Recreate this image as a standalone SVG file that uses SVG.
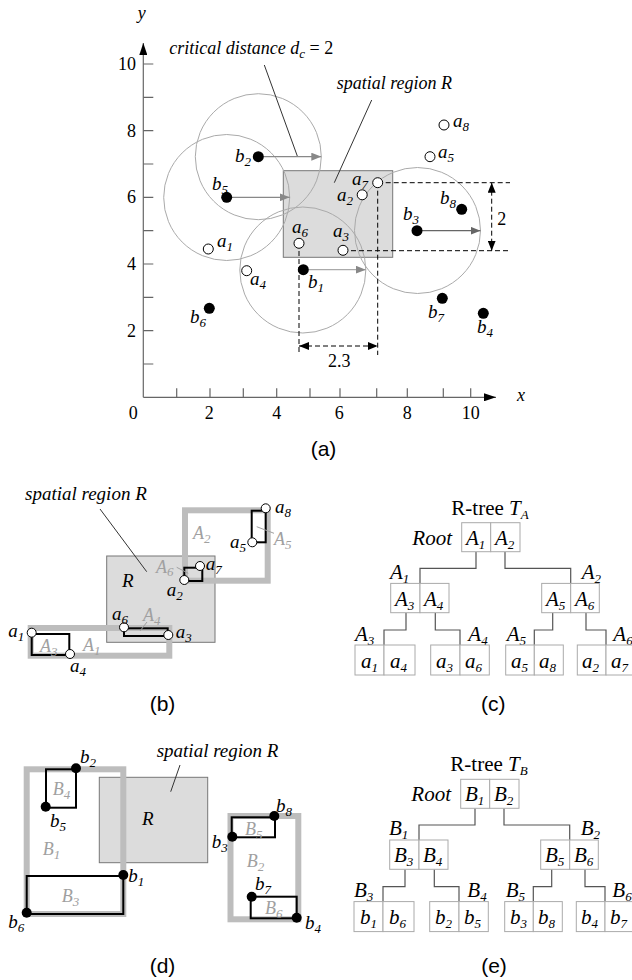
<svg xmlns="http://www.w3.org/2000/svg" width="632" height="980" viewBox="0 0 632 980">
<style>
text{font-family:"Liberation Serif","Times New Roman",serif;font-size:18px;fill:#000}
.it{font-style:italic}
.lbl{font-style:italic;font-size:19px}
.gl{font-style:italic;font-size:18px;fill:#a0a0a0}
.sub{font-size:13px}
.cap{font-family:"Liberation Sans",Arial,sans-serif;font-size:21px}
.tr{font-size:21px}
.ax{stroke:#666;stroke-width:1.2;fill:none}
.dash{stroke:#000;stroke-width:1;stroke-dasharray:5,3;fill:none}
.circ{fill:none;stroke:#aaa;stroke-width:1}
.open{fill:#fff;stroke:#000;stroke-width:1}
.dot{fill:#000}
.reg{fill:#dcdcdc;stroke:#777;stroke-width:1}
.thick{fill:none;stroke:#bdbdbd;stroke-width:6}
.mbr{fill:none;stroke:#000;stroke-width:2}
.lead{stroke:#333;stroke-width:1;fill:none}
.glead{stroke:#a0a0a0;stroke-width:1;fill:none}
.cell{fill:#fff;stroke:#aaa;stroke-width:1}
.conn{stroke:#555;stroke-width:1.2;fill:none}
</style>
<defs>
<marker id="ga" viewBox="0 0 10 8" refX="10" refY="4" markerWidth="10" markerHeight="8" markerUnits="userSpaceOnUse" orient="auto"><path d="M0,0L10,4L0,8z" fill="#888"/></marker>
<marker id="ga2" viewBox="0 0 10 8" refX="10" refY="4" markerWidth="10" markerHeight="8" markerUnits="userSpaceOnUse" orient="auto"><path d="M0,0L10,4L0,8z" fill="#666"/></marker>
<marker id="ba" viewBox="0 0 10 8" refX="10" refY="4" markerWidth="10" markerHeight="8" markerUnits="userSpaceOnUse" orient="auto-start-reverse"><path d="M0,0L10,4L0,8z" fill="#000"/></marker>
<marker id="axa" viewBox="0 0 12 8" refX="12" refY="4" markerWidth="12" markerHeight="8" markerUnits="userSpaceOnUse" orient="auto"><path d="M0,0L12,4L0,8z" fill="#000"/></marker>
</defs>

<!-- (a) -->
<g id="plot-a">
<g id="axes">
<line class="ax" x1="143.3" y1="397.3" x2="496" y2="397.3" marker-end="url(#axa)"/>
<line class="ax" x1="143.3" y1="397.3" x2="143.3" y2="43" marker-end="url(#axa)"/>
<path class="ax" d="M176.7,397.3v-9M210,397.3v-9M243.3,397.3v-9M276.7,397.3v-9M310,397.3v-9M340,397.3v-9M376.7,397.3v-9M407.3,397.3v-9M443.3,397.3v-9M470.7,397.3v-9"/>
<path class="ax" d="M143.3,364h10M143.3,330.7h10M143.3,297.3h10M143.3,264h10M143.3,230.7h10M143.3,197.3h10M143.3,164h10M143.3,130.7h10M143.3,97.3h10M143.3,64h10"/>
<text x="133.3" y="419" text-anchor="middle">0</text>
<text x="209.3" y="419" text-anchor="middle">2</text>
<text x="276.7" y="419" text-anchor="middle">4</text>
<text x="339.3" y="419" text-anchor="middle">6</text>
<text x="407.3" y="419" text-anchor="middle">8</text>
<text x="470.7" y="419" text-anchor="middle">10</text>
<text x="136" y="337" text-anchor="end">2</text>
<text x="136" y="270" text-anchor="end">4</text>
<text x="136" y="203" text-anchor="end">6</text>
<text x="136" y="137" text-anchor="end">8</text>
<text x="136" y="70" text-anchor="end">10</text>
<text class="it" x="521" y="401" text-anchor="middle">x</text>
<text class="it" x="141.7" y="19" text-anchor="middle">y</text>
</g>
<rect id="region-a" class="reg" x="283.3" y="170.7" width="109.4" height="86.6"/>
<g id="circles">
<circle class="circ" cx="258.3" cy="156.7" r="63"/>
<circle class="circ" cx="226.7" cy="197.5" r="63"/>
<circle class="circ" cx="302.8" cy="270" r="63"/>
<circle class="circ" cx="417.5" cy="230.5" r="63" stroke="#777"/>
</g>
<g id="dims">
<path class="dash" d="M377.7,182.7H510M343,250.7H510M377.7,182.7V355M299,243V355"/>
<line class="dash" x1="491.7" y1="182.7" x2="491.7" y2="250.7" marker-start="url(#ba)" marker-end="url(#ba)"/>
<line class="dash" x1="299" y1="346" x2="377.7" y2="346" marker-start="url(#ba)" marker-end="url(#ba)"/>
<text x="501.7" y="224.5" text-anchor="middle">2</text>
<text x="339.3" y="367" text-anchor="middle">2.3</text>
</g>
<g id="range-arrows">
<line x1="258.3" y1="156.7" x2="321.3" y2="156.7" stroke="#888" stroke-width="1.2" marker-end="url(#ga)"/>
<line x1="226.7" y1="197.3" x2="289.7" y2="197.3" stroke="#888" stroke-width="1.2" marker-end="url(#ga)"/>
<line x1="303.3" y1="269.7" x2="365.8" y2="269.7" stroke="#aaa" stroke-width="1.2" marker-end="url(#ga)"/>
<line x1="417" y1="230.7" x2="480.5" y2="230.7" stroke="#666" stroke-width="1.2" marker-end="url(#ga2)"/>
</g>
<g id="annot-a">
<text class="it" x="169.3" y="53.5">critical distance <tspan>d</tspan><tspan class="sub" dy="4">c</tspan><tspan dy="-4" font-style="normal"> = 2</tspan></text>
<line class="lead" x1="264.3" y1="65" x2="297.3" y2="156"/>
<text class="it" x="336.7" y="89">spatial region R</text>
<line class="lead" x1="371.7" y1="100" x2="334.3" y2="182.7"/>
</g>
<g id="points-a">
<circle class="dot" cx="258.3" cy="156.7" r="5.5"/>
<circle class="dot" cx="226.7" cy="197.3" r="5.5"/>
<circle class="dot" cx="303.3" cy="269.7" r="5.5"/>
<circle class="dot" cx="209.3" cy="308.3" r="5.5"/>
<circle class="dot" cx="417" cy="230.7" r="5.5"/>
<circle class="dot" cx="461.7" cy="209.3" r="5.5"/>
<circle class="dot" cx="442.3" cy="298.3" r="5.5"/>
<circle class="dot" cx="483.3" cy="313.3" r="5.5"/>
<circle class="open" cx="377.7" cy="182.7" r="5"/>
<circle class="open" cx="362.2" cy="194.8" r="5"/>
<circle class="open" cx="299" cy="243.3" r="5"/>
<circle class="open" cx="343" cy="250.3" r="5"/>
<circle class="open" cx="208.3" cy="249" r="5"/>
<circle class="open" cx="246.7" cy="270.7" r="5"/>
<circle class="open" cx="444" cy="125" r="5"/>
<circle class="open" cx="430" cy="156.7" r="5"/>
</g>
<g id="labels-a">
<text class="lbl" x="235" y="162">b<tspan class="sub" dy="4">2</tspan></text>
<text class="lbl" x="212" y="190">b<tspan class="sub" dy="4">5</tspan></text>
<text class="lbl" x="352" y="185">a<tspan class="sub" dy="4">7</tspan></text>
<text class="lbl" x="337" y="201">a<tspan class="sub" dy="4">2</tspan></text>
<text class="lbl" x="292" y="233">a<tspan class="sub" dy="4">6</tspan></text>
<text class="lbl" x="333" y="237">a<tspan class="sub" dy="4">3</tspan></text>
<text class="lbl" x="217" y="247">a<tspan class="sub" dy="4">1</tspan></text>
<text class="lbl" x="250" y="285">a<tspan class="sub" dy="4">4</tspan></text>
<text class="lbl" x="308" y="288">b<tspan class="sub" dy="4">1</tspan></text>
<text class="lbl" x="190" y="323">b<tspan class="sub" dy="4">6</tspan></text>
<text class="lbl" x="403" y="220">b<tspan class="sub" dy="4">3</tspan></text>
<text class="lbl" x="440" y="204">b<tspan class="sub" dy="4">8</tspan></text>
<text class="lbl" x="428" y="318">b<tspan class="sub" dy="4">7</tspan></text>
<text class="lbl" x="477" y="333">b<tspan class="sub" dy="4">4</tspan></text>
<text class="lbl" x="453" y="127">a<tspan class="sub" dy="4">8</tspan></text>
<text class="lbl" x="438" y="158">a<tspan class="sub" dy="4">5</tspan></text>
</g>
<text class="cap" x="323.5" y="455.5" text-anchor="middle">(a)</text>
</g>

<!-- (b) -->
<g id="plot-b">
<rect id="region-b" class="reg" x="106.7" y="556" width="108.3" height="86.3"/>
<text class="lbl" x="122" y="587">R</text>
<text class="lbl" x="25" y="500">spatial region R</text>
<line class="lead" x1="100" y1="509" x2="146.7" y2="571.7"/>
<g id="A2"><rect class="thick" x="185" y="510.3" width="82.7" height="70.4"/><text class="gl" x="193" y="539">A<tspan class="sub" dy="4">2</tspan></text></g>
<g id="A1"><rect class="thick" x="30.7" y="628" width="138.6" height="27.7"/><text class="gl" x="83" y="651">A<tspan class="sub" dy="4">1</tspan></text></g>
<g id="A3"><rect class="mbr" x="31.7" y="634" width="37.6" height="21"/><text class="gl" x="40" y="652">A<tspan class="sub" dy="4">3</tspan></text></g>
<g id="A4"><rect class="mbr" x="124" y="628.3" width="43.7" height="7.7"/><text class="gl" x="143" y="621">A<tspan class="sub" dy="4">4</tspan></text><line class="glead" x1="140" y1="631" x2="147" y2="622"/></g>
<g id="A5"><rect class="mbr" x="251.7" y="510.7" width="14" height="31.6"/><text class="gl" x="274" y="545">A<tspan class="sub" dy="4">5</tspan></text><line class="glead" x1="256.7" y1="526.7" x2="274" y2="533.3"/></g>
<g id="A6"><rect class="mbr" x="184.3" y="567.7" width="18" height="13.3"/><text class="gl" x="156" y="573">A<tspan class="sub" dy="3">6</tspan></text><line class="glead" x1="176.7" y1="567.3" x2="188.3" y2="573.3"/></g>
<g id="points-b">
<circle class="open" cx="265.7" cy="508.3" r="4.5"/>
<circle class="open" cx="252.3" cy="542.3" r="4.5"/>
<circle class="open" cx="200" cy="566" r="4.5"/>
<circle class="open" cx="184.3" cy="580" r="4.5"/>
<circle class="open" cx="124" cy="627.3" r="4.5"/>
<circle class="open" cx="168.3" cy="635" r="4.5"/>
<circle class="open" cx="31.7" cy="632.7" r="4.5"/>
<circle class="open" cx="70" cy="654" r="4.5"/>
</g>
<g id="labels-b">
<text class="lbl" x="275" y="513">a<tspan class="sub" dy="4">8</tspan></text>
<text class="lbl" x="230" y="548">a<tspan class="sub" dy="4">5</tspan></text>
<text class="lbl" x="205.7" y="570">a<tspan class="sub" dy="4">7</tspan></text>
<text class="lbl" x="166.7" y="596">a<tspan class="sub" dy="4">2</tspan></text>
<text class="lbl" x="112" y="620">a<tspan class="sub" dy="4">6</tspan></text>
<text class="lbl" x="175.7" y="638">a<tspan class="sub" dy="4">3</tspan></text>
<text class="lbl" x="8.3" y="637">a<tspan class="sub" dy="4">1</tspan></text>
<text class="lbl" x="70" y="672">a<tspan class="sub" dy="4">4</tspan></text>
</g>
<text class="cap" x="162.5" y="711" text-anchor="middle">(b)</text>
</g>

<!-- (c) -->
<g id="tree-A" transform="translate(0,522.7)">
<text class="tr" x="490" y="-8" text-anchor="middle">R-tree <tspan class="it">T</tspan><tspan class="it sub" dy="4">A</tspan></text>
<text class="tr it" x="452" y="22" text-anchor="end">Root</text>
<g id="connectors-A">
<path class="conn" d="M476,29V45.7H420V60.7M505,29V45.7H570.7V60.7M406,90V107.3H384V122.3M435.3,90V107.3H460V122.3M552.7,90V107.3H534.3V122.3M586,90V107.3H606V122.3"/>
</g>
<g id="A-root"><rect class="cell" x="461.7" y="0" width="29" height="29"/><rect class="cell" x="490.7" y="0" width="29.3" height="29"/>
<text class="tr it" x="466" y="22">A<tspan class="sub" dy="4">1</tspan></text><text class="tr it" x="495" y="22">A<tspan class="sub" dy="4">2</tspan></text></g>
<g id="A-n1"><text class="tr it" x="390" y="56">A<tspan class="sub" dy="4">1</tspan></text>
<rect class="cell" x="390.7" y="60.7" width="29.3" height="29.3"/><rect class="cell" x="420" y="60.7" width="29" height="29.3"/>
<text class="tr it" x="395" y="83">A<tspan class="sub" dy="4">3</tspan></text><text class="tr it" x="424" y="83">A<tspan class="sub" dy="4">4</tspan></text></g>
<g id="A-n2"><text class="tr it" x="581.7" y="56">A<tspan class="sub" dy="4">2</tspan></text>
<rect class="cell" x="541.7" y="60.7" width="29" height="29.3"/><rect class="cell" x="570.7" y="60.7" width="28.6" height="29.3"/>
<text class="tr it" x="546" y="83">A<tspan class="sub" dy="4">5</tspan></text><text class="tr it" x="575" y="83">A<tspan class="sub" dy="4">6</tspan></text></g>
<g id="A-n3"><text class="tr it" x="355" y="118">A<tspan class="sub" dy="4">3</tspan></text>
<rect class="cell" x="355" y="122.3" width="29" height="30"/><rect class="cell" x="384" y="122.3" width="31" height="30"/>
<text class="tr it" x="361" y="145">a<tspan class="sub" dy="4">1</tspan></text><text class="tr it" x="390" y="145">a<tspan class="sub" dy="4">4</tspan></text></g>
<g id="A-n4"><text class="tr it" x="468.3" y="118">A<tspan class="sub" dy="4">4</tspan></text>
<rect class="cell" x="430.7" y="122.3" width="29.3" height="30"/><rect class="cell" x="460" y="122.3" width="29.3" height="30"/>
<text class="tr it" x="436" y="145">a<tspan class="sub" dy="4">3</tspan></text><text class="tr it" x="465" y="145">a<tspan class="sub" dy="4">6</tspan></text></g>
<g id="A-n5"><text class="tr it" x="506.7" y="118">A<tspan class="sub" dy="4">5</tspan></text>
<rect class="cell" x="505.7" y="122.3" width="28.6" height="30"/><rect class="cell" x="534.3" y="122.3" width="29" height="30"/>
<text class="tr it" x="511" y="145">a<tspan class="sub" dy="4">5</tspan></text><text class="tr it" x="539" y="145">a<tspan class="sub" dy="4">8</tspan></text></g>
<g id="A-n6"><text class="tr it" x="613.3" y="118">A<tspan class="sub" dy="4">6</tspan></text>
<rect class="cell" x="577.3" y="122.3" width="28.7" height="30"/><rect class="cell" x="606" y="122.3" width="29" height="30"/>
<text class="tr it" x="582" y="145">a<tspan class="sub" dy="4">2</tspan></text><text class="tr it" x="611" y="145">a<tspan class="sub" dy="4">7</tspan></text></g>
</g>
<text class="cap" x="493.3" y="711" text-anchor="middle">(c)</text>

<!-- (d) -->
<g id="plot-d">
<rect id="region-d" class="reg" x="99.3" y="777.3" width="108.4" height="85.4"/>
<text class="lbl" x="142" y="825">R</text>
<text class="lbl" x="156.7" y="757">spatial region R</text>
<line class="lead" x1="180" y1="765" x2="170.7" y2="791.7"/>
<g id="B1"><rect class="thick" x="26.7" y="769.3" width="96.6" height="144.7"/><text class="gl" x="42.7" y="855">B<tspan class="sub" dy="4">1</tspan></text></g>
<g id="B4"><rect class="mbr" x="46" y="769.3" width="30" height="38.4"/><text class="gl" x="52.7" y="795">B<tspan class="sub" dy="4">4</tspan></text></g>
<g id="B3"><rect class="mbr" x="26.7" y="876" width="96.6" height="38"/><text class="gl" x="61.7" y="902">B<tspan class="sub" dy="4">3</tspan></text></g>
<g id="B2"><rect class="thick" x="230.5" y="816" width="67.8" height="103.3"/><text class="gl" x="246.7" y="867">B<tspan class="sub" dy="4">2</tspan></text></g>
<g id="B5"><rect class="mbr" x="231.7" y="817.3" width="43.3" height="20"/><text class="gl" x="245" y="835">B<tspan class="sub" dy="4">5</tspan></text></g>
<g id="B6"><rect class="mbr" x="250.7" y="896.7" width="46" height="21.6"/><text class="gl" x="265" y="914">B<tspan class="sub" dy="4">6</tspan></text></g>
<g id="points-d">
<circle class="dot" cx="76" cy="768.3" r="5"/>
<circle class="dot" cx="45.7" cy="806.7" r="5"/>
<circle class="dot" cx="123.3" cy="875" r="5"/>
<circle class="dot" cx="26.7" cy="912.7" r="5"/>
<circle class="dot" cx="274.3" cy="816" r="5"/>
<circle class="dot" cx="232.3" cy="836.7" r="5"/>
<circle class="dot" cx="251.7" cy="896.7" r="5"/>
<circle class="dot" cx="296.7" cy="917.7" r="5"/>
</g>
<g id="labels-d">
<text class="lbl" x="80" y="763">b<tspan class="sub" dy="4">2</tspan></text>
<text class="lbl" x="50" y="827">b<tspan class="sub" dy="4">5</tspan></text>
<text class="lbl" x="128.3" y="882">b<tspan class="sub" dy="4">1</tspan></text>
<text class="lbl" x="8.3" y="928">b<tspan class="sub" dy="4">6</tspan></text>
<text class="lbl" x="276" y="812">b<tspan class="sub" dy="4">8</tspan></text>
<text class="lbl" x="211.7" y="848">b<tspan class="sub" dy="4">3</tspan></text>
<text class="lbl" x="255" y="890">b<tspan class="sub" dy="4">7</tspan></text>
<text class="lbl" x="305" y="929">b<tspan class="sub" dy="4">4</tspan></text>
</g>
<text class="cap" x="162.5" y="972.5" text-anchor="middle">(d)</text>
</g>

<!-- (e) -->
<g id="tree-B" transform="translate(-1,779.3)">
<text class="tr" x="490" y="-8" text-anchor="middle">R-tree <tspan class="it">T</tspan><tspan class="it sub" dy="4">B</tspan></text>
<text class="tr it" x="452" y="22" text-anchor="end">Root</text>
<g id="connectors-B">
<path class="conn" d="M476,29V45.7H420V60.7M505,29V45.7H570.7V60.7M406,90V107.3H384V122.3M435.3,90V107.3H460V122.3M552.7,90V107.3H534.3V122.3M586,90V107.3H606V122.3"/>
</g>
<g id="B-root"><rect class="cell" x="461.7" y="0" width="29" height="29"/><rect class="cell" x="490.7" y="0" width="29.3" height="29"/>
<text class="tr it" x="466" y="22">B<tspan class="sub" dy="4">1</tspan></text><text class="tr it" x="495" y="22">B<tspan class="sub" dy="4">2</tspan></text></g>
<g id="B-n1"><text class="tr it" x="390" y="56">B<tspan class="sub" dy="4">1</tspan></text>
<rect class="cell" x="390.7" y="60.7" width="29.3" height="29.3"/><rect class="cell" x="420" y="60.7" width="29" height="29.3"/>
<text class="tr it" x="395" y="83">B<tspan class="sub" dy="4">3</tspan></text><text class="tr it" x="424" y="83">B<tspan class="sub" dy="4">4</tspan></text></g>
<g id="B-n2"><text class="tr it" x="581.7" y="56">B<tspan class="sub" dy="4">2</tspan></text>
<rect class="cell" x="541.7" y="60.7" width="29" height="29.3"/><rect class="cell" x="570.7" y="60.7" width="28.6" height="29.3"/>
<text class="tr it" x="546" y="83">B<tspan class="sub" dy="4">5</tspan></text><text class="tr it" x="575" y="83">B<tspan class="sub" dy="4">6</tspan></text></g>
<g id="B-n3"><text class="tr it" x="355" y="118">B<tspan class="sub" dy="4">3</tspan></text>
<rect class="cell" x="355" y="122.3" width="29" height="30"/><rect class="cell" x="384" y="122.3" width="31" height="30"/>
<text class="tr it" x="361" y="145">b<tspan class="sub" dy="4">1</tspan></text><text class="tr it" x="390" y="145">b<tspan class="sub" dy="4">6</tspan></text></g>
<g id="B-n4"><text class="tr it" x="468.3" y="118">B<tspan class="sub" dy="4">4</tspan></text>
<rect class="cell" x="430.7" y="122.3" width="29.3" height="30"/><rect class="cell" x="460" y="122.3" width="29.3" height="30"/>
<text class="tr it" x="436" y="145">b<tspan class="sub" dy="4">2</tspan></text><text class="tr it" x="465" y="145">b<tspan class="sub" dy="4">5</tspan></text></g>
<g id="B-n5"><text class="tr it" x="506.7" y="118">B<tspan class="sub" dy="4">5</tspan></text>
<rect class="cell" x="505.7" y="122.3" width="28.6" height="30"/><rect class="cell" x="534.3" y="122.3" width="29" height="30"/>
<text class="tr it" x="511" y="145">b<tspan class="sub" dy="4">3</tspan></text><text class="tr it" x="539" y="145">b<tspan class="sub" dy="4">8</tspan></text></g>
<g id="B-n6"><text class="tr it" x="613.3" y="118">B<tspan class="sub" dy="4">6</tspan></text>
<rect class="cell" x="577.3" y="122.3" width="28.7" height="30"/><rect class="cell" x="606" y="122.3" width="29" height="30"/>
<text class="tr it" x="582" y="145">b<tspan class="sub" dy="4">4</tspan></text><text class="tr it" x="611" y="145">b<tspan class="sub" dy="4">7</tspan></text></g>
</g>
<text class="cap" x="494" y="972.5" text-anchor="middle">(e)</text>
</svg>
